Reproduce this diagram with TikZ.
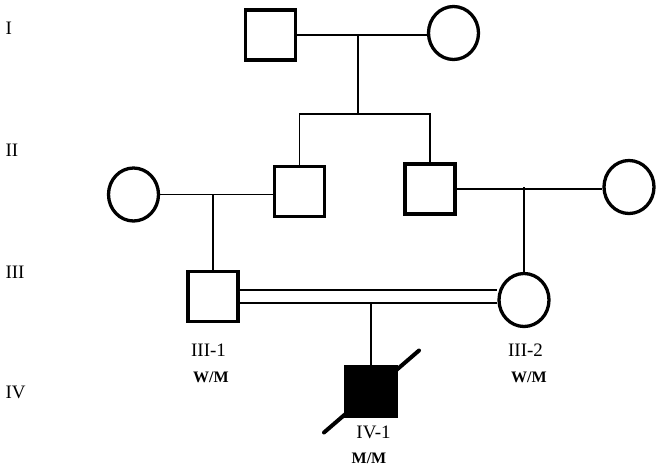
\documentclass[tikz,border=0pt]{standalone}
\usepackage{fontspec}
\setmainfont{Liberation Serif}
\usepackage{tikz}
\usetikzlibrary{positioning,shapes.geometric,calc}

\begin{document}
\begin{tikzpicture}[x=1pt,y=-1pt]
\tikzset{
  male/.style={draw,rectangle,line width=3.3pt,minimum width=50pt,minimum height=50pt,inner sep=0pt},
  female/.style={draw,ellipse,line width=3.3pt,minimum width=50pt,minimum height=53pt,inner sep=0pt},
  lnk/.style={line width=1.6pt},
  dbl/.style={line width=1.6pt,double,double distance=11pt},
  gen/.style={font=\fontsize{19}{22}\selectfont,anchor=west},
  idlab/.style={font=\fontsize{19}{22}\selectfont},
  geno/.style={font=\fontsize{16}{18}\selectfont\bfseries},
  deceased/.style={line width=4pt,line cap=round}
}
\useasboundingbox (0,0) rectangle (661,467);
% generation labels
\node[gen] (gI) at (2,28) {I};
\node[gen] (gII) at (2,150) {II};
\node[gen] (gIII) at (2,272) {III};
\node[gen] (gIV) at (2,392) {IV};

% generation I
\node[male] (I1) at (270.5,35) {};
\node[female] (I2) at (453.5,33) {};
\draw[lnk] (I1.east) -- (I1.east -| I2.west);
\coordinate (m1) at (358,35);
\coordinate (s1) at (358,114);
\draw[lnk] (m1) -- (s1);

% generation II
\node[female] (II1) at (133.5,194.5) {};
\node[male] (II2) at (299.5,191.5) {};
\node[male] (II3) at (430,189) {};
\node[female] (II4) at (629,187) {};
\draw[lnk] (II2.north) |- (s1) -| (II3.north);
\draw[lnk] (II1.east) -- (II1.east -| II2.west);
\draw[lnk] (II3.east) -- (II3.east -| II4.west);

% generation III
\node[male] (III1) at (213,296.5) {};
\node[female] (III2) at (524,300) {};
\draw[lnk] (III1.north) -- (III1.north |- II1.east);
\draw[lnk] (III2.north) -- (III2.north |- II4.west);
\draw[dbl] (III1.east) -- (III1.east -| III2.west);
\node[idlab] (l31) at (208.5,350) {III-1};
\node[geno] (g31) at (211,377) {W/M};
\node[idlab] (l32) at (525.5,350) {III-2};
\node[geno] (g32) at (529,377) {W/M};

% generation IV
\node[male,fill=black] (IV1) at (371,391.5) {};
\coordinate (low) at ([yshift=-6.5pt]III1.east);
\draw[lnk] (IV1.north) -- (IV1.north |- low);
\draw[deceased] ($(IV1.center)+(-47,41)$) -- ($(IV1.center)+(48,-41)$);
\node[idlab] (l41) at (373.5,432) {IV-1};
\node[geno] (g41) at (369,458) {M/M};
\end{tikzpicture}
\end{document}
